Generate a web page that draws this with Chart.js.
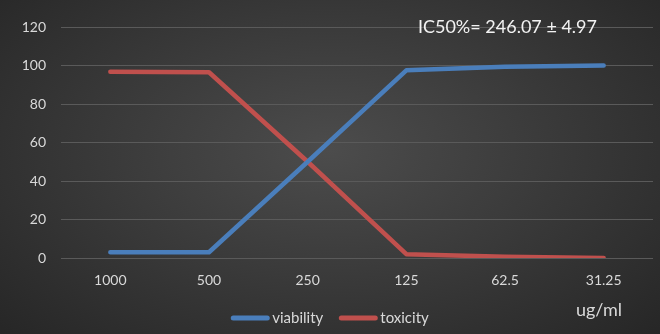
<!DOCTYPE html>
<html>
<head>
<meta charset="utf-8">
<script src="https://cdn.jsdelivr.net/npm/chart.js@4"></script>
<style>
  html, body { margin: 0; padding: 0; }
  #wrap {
    width: 660px; height: 334px; position: relative;
    background: radial-gradient(ellipse 70% 80% at 50% 45%, #4c4c4c 0%, #3b3b3b 45%, #262626 100%);
  }
</style>
</head>
<body>
<div id="wrap"><canvas id="ic50Chart" width="660" height="334"></canvas></div>
<script>
// Data
const concentrations = ['1000', '500', '250', '125', '62.5', '31.25'];
const viability = [3, 3, 50, 97.5, 99.4, 100];
const toxicity = [96.8, 96.5, 50, 2, 0.6, 0];
const yTicks = [0, 20, 40, 60, 80, 100, 120];
const annotation = 'IC50%= 246.07 \u00b1 4.97';
const unitLabel = 'ug/ml';

const FONT = 'Lato, "Open Sans", sans-serif';
const textColor = '#d9d9d9';

// annotation text, unit label and legend drawn on top
const extras = {
  id: 'extras',
  afterDraw(chart) {
    const c = chart.ctx;
    c.save();
    c.fillStyle = '#f2f2f2';
    c.font = '18px ' + FONT;
    c.textBaseline = 'middle';
    c.textAlign = 'right';
    c.fillText(annotation, 597, chart.scales.y.getPixelForValue(120));
    c.fillStyle = textColor;
    c.fillText(unitLabel, 622, 310);

    // legend
    c.font = '15px ' + FONT;
    const items = chart.data.datasets.map(d => ({ label: d.label, color: d.borderColor }));
    const lineLen = 38, gap = 3, spacing = 16;
    let total = 0;
    items.forEach((it, i) => {
      total += lineLen + gap + c.measureText(it.label).width + (i ? spacing : 0);
    });
    let x = chart.width / 2 - total / 2;
    const y = 318;
    c.textAlign = 'left';
    c.lineCap = 'round';
    items.forEach(it => {
      c.strokeStyle = it.color;
      c.lineWidth = 5;
      c.beginPath();
      c.moveTo(x + 2, y);
      c.lineTo(x + lineLen - 2, y);
      c.stroke();
      x += lineLen + gap;
      c.fillStyle = textColor;
      c.fillText(it.label, x, y);
      x += c.measureText(it.label).width + spacing;
    });
    c.restore();
  }
};

const ctx = document.getElementById('ic50Chart').getContext('2d');
new Chart(ctx, {
  type: 'line',
  data: {
    labels: concentrations,
    datasets: [
      {
        label: 'viability',
        data: viability,
        borderColor: '#4a7ebb',
        backgroundColor: '#4a7ebb',
        borderWidth: 4.5,
        pointRadius: 0,
        borderCapStyle: 'round',
        borderJoinStyle: 'round',
        tension: 0
      },
      {
        label: 'toxicity',
        data: toxicity,
        borderColor: '#c0504d',
        backgroundColor: '#c0504d',
        borderWidth: 4.5,
        pointRadius: 0,
        borderCapStyle: 'round',
        borderJoinStyle: 'round',
        tension: 0
      }
    ]
  },
  options: {
    responsive: false,
    animation: false,
    layout: { padding: { top: 27, right: 7, left: 0, bottom: 0 } },
    plugins: {
      legend: { display: false },
      tooltip: { enabled: false }
    },
    scales: {
      x: {
        offset: true,
        grid: { display: false, drawTicks: false },
        border: { display: false },
        ticks: { color: textColor, font: { family: FONT, size: 14 }, padding: 14, maxRotation: 0 },
        afterFit: s => { s.height = 76; }
      },
      y: {
        min: 0,
        max: 120,
        afterBuildTicks: s => { s.ticks = yTicks.map(v => ({ value: v })); },
        grid: { color: '#5a5a5a', lineWidth: 1, drawTicks: false },
        border: { display: false },
        ticks: { color: textColor, font: { family: FONT, size: 14 }, padding: 15 },
        afterFit: s => { s.width = 61; }
      }
    }
  },
  plugins: [extras]
});
</script>
</body>
</html>
